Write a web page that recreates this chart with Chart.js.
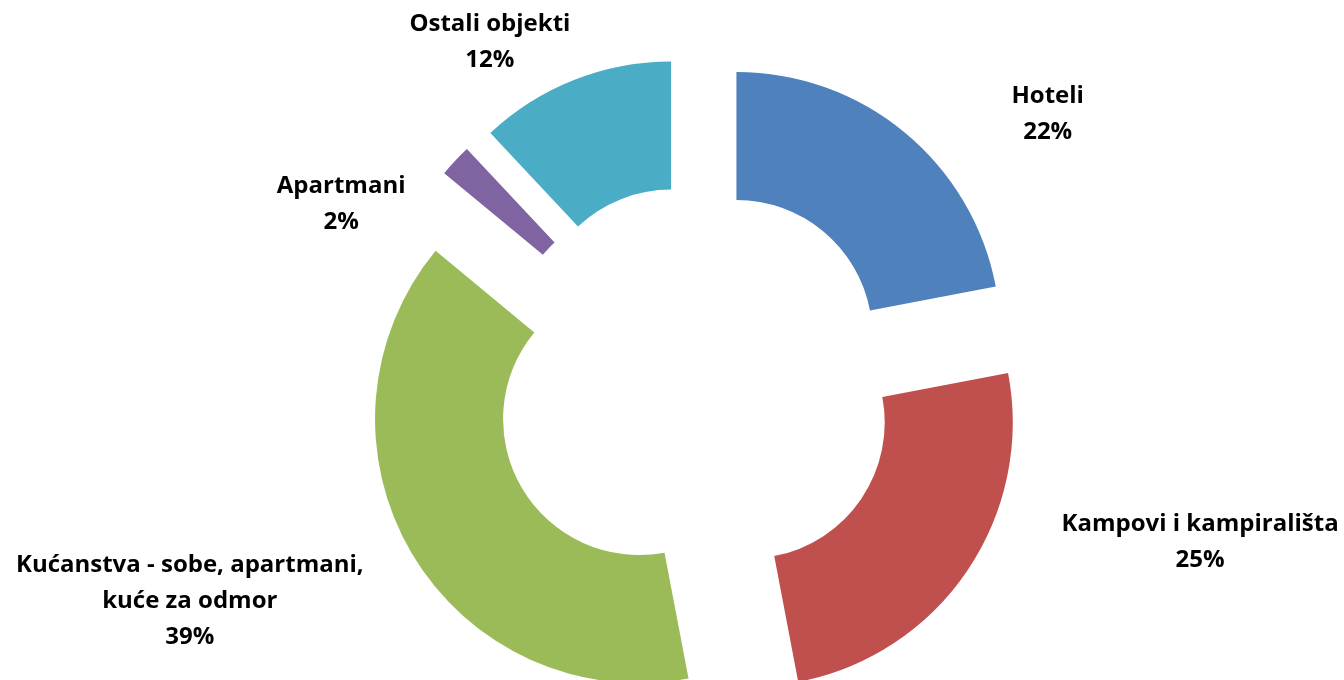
<!DOCTYPE html>
<html>
<head>
<meta charset="utf-8">
<script src="https://cdn.jsdelivr.net/npm/chart.js@4/dist/chart.umd.min.js"></script>
<style>
  html, body { margin: 0; padding: 0; background: #fff; }
  #wrap { width: 1344px; height: 680px; }
</style>
</head>
<body>
<div id="wrap"><canvas id="pieChart" width="1344" height="680"></canvas></div>
<script>
// Chart data
const categories = ['Hoteli', 'Kampovi i kampirališta', 'Kućanstva - sobe, apartmani, kuće za odmor', 'Apartmani', 'Ostali objekti'];
const labelLines = [['Hoteli'], ['Kampovi i kampirališta'], ['Kućanstva - sobe, apartmani,', 'kuće za odmor'], ['Apartmani'], ['Ostali objekti']];
const shares = [22, 25, 39, 2, 12];
const sliceColors = ['#4F81BD', '#C0504D', '#9BBB59', '#8064A2', '#4BACC6'];

// how far each slice is pulled out, and where its label sits relative to the slice's outer edge
const explode = 65;
const labelShift = [[143, -18], [233, -29], [-222, 48], [-114, 43], [-84, -38]];

// pull every slice out along its middle angle
const explodePlugin = {
    id: 'explode',
    afterDatasetUpdate(chart, args) {
        args.meta.data.forEach(arc => {
            const mid = (arc.startAngle + arc.endAngle) / 2;
            arc.x += Math.cos(mid) * explode;
            arc.y += Math.sin(mid) * explode;
        });
    }
};

// category name + percentage next to each slice
const labelPlugin = {
    id: 'sliceLabels',
    afterDatasetsDraw(chart) {
        const ctx = chart.ctx;
        const arcs = chart.getDatasetMeta(0).data;
        ctx.save();
        ctx.font = 'bold 24px "Open Sans"';
        ctx.fillStyle = '#000';
        ctx.textAlign = 'center';
        ctx.textBaseline = 'middle';
        arcs.forEach((arc, i) => {
            const mid = (arc.startAngle + arc.endAngle) / 2;
            const cx = arc.x + Math.cos(mid) * arc.outerRadius + labelShift[i][0];
            const cy = arc.y + Math.sin(mid) * arc.outerRadius + labelShift[i][1];
            const lines = labelLines[i].concat([shares[i] + '%']);
            const lh = 36;
            const top = cy - (lines.length - 1) * lh / 2;
            lines.forEach((t, k) => ctx.fillText(t, cx, top + k * lh));
        });
        ctx.restore();
    }
};

const ctx = document.getElementById('pieChart').getContext('2d');
const pieChart = new Chart(ctx, {
    type: 'doughnut',
    data: {
        labels: categories,
        datasets: [{
            data: shares,
            backgroundColor: sliceColors,
            borderWidth: 0,
            hoverOffset: 0
        }]
    },
    options: {
        responsive: false,
        animation: false,
        events: [],
        radius: 264,
        cutout: '51.5%',
        layout: { padding: { left: 46, top: 92, right: 0, bottom: 0 } },
        plugins: {
            legend: { display: false },
            tooltip: { enabled: false }
        }
    },
    plugins: [explodePlugin, labelPlugin]
});
</script>
</body>
</html>
